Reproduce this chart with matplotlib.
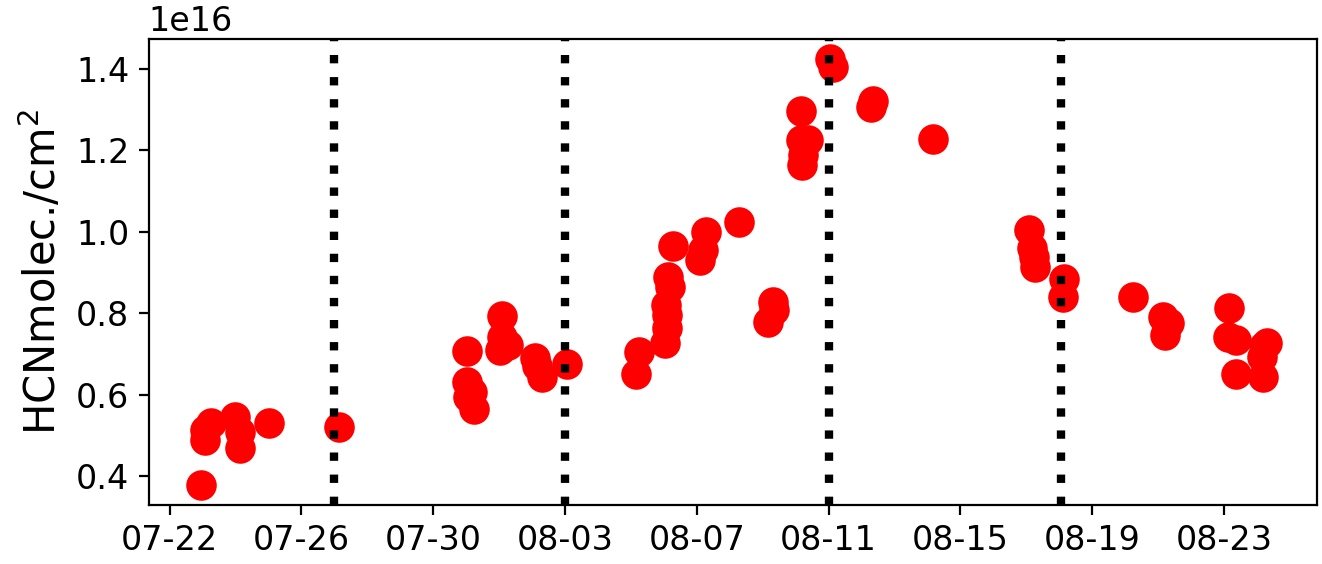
import matplotlib
matplotlib.use("Agg")
import matplotlib.pyplot as plt
import matplotlib.dates as mdates
import pandas as pd

# observation times (2019) and HCN total columns (molec./cm^2)
times = [
    "07-22 23:15", "07-23 01:30", "07-23 02:10", "07-23 06:00", "07-23 23:30",
    "07-24 03:00", "07-24 03:10", "07-25 00:15", "07-27 03:20",
    "07-31 00:45", "07-31 00:40", "07-31 04:30", "07-31 01:30", "07-31 05:45",
    "08-01 02:10", "08-01 02:15", "08-01 00:45", "08-01 06:30",
    "08-02 02:10", "08-02 03:40", "08-02 07:30", "08-03 01:40",
    "08-05 03:50", "08-05 06:00", "08-06 00:30", "08-06 02:00", "08-06 02:40",
    "08-06 01:50", "08-06 04:50", "08-06 03:20", "08-06 07:00",
    "08-07 02:40", "08-07 04:40", "08-07 07:00", "08-08 07:00",
    "08-09 03:40", "08-09 07:10", "08-09 08:00",
    "08-11 00:45", "08-11 03:00", "08-10 03:40", "08-10 03:40", "08-10 09:20",
    "08-10 05:00", "08-10 04:20", "08-12 08:10", "08-12 06:40", "08-14 03:50",
    "08-17 02:00", "08-17 04:20", "08-17 05:50", "08-17 06:30",
    "08-18 03:20", "08-18 02:40", "08-20 05:50",
    "08-21 03:40", "08-21 08:00", "08-21 05:00",
    "08-23 03:50", "08-23 03:10", "08-23 09:00", "08-23 09:00",
    "08-24 07:30", "08-24 03:30", "08-24 04:30", "08-24 05:20",
]
hcn = [
    0.378, 0.488, 0.513, 0.530, 0.545,
    0.508, 0.469, 0.530, 0.520,
    0.707, 0.631, 0.605, 0.594, 0.565,
    0.793, 0.742, 0.710, 0.722,
    0.690, 0.670, 0.643, 0.675,
    0.651, 0.705, 0.727, 0.764, 0.796,
    0.820, 0.864, 0.889, 0.965,
    0.931, 0.955, 0.999, 1.024,
    0.778, 0.827, 0.808,
    1.425, 1.405, 1.297, 1.226, 1.226,
    1.189, 1.164, 1.321, 1.307, 1.228,
    1.004, 0.960, 0.938, 0.914,
    0.884, 0.840, 0.840,
    0.791, 0.776, 0.747,
    0.813, 0.741, 0.733, 0.651,
    0.727, 0.692, 0.643, 0.720,
]
week_marks = ["07-27 00:00", "08-03 00:00", "08-11 00:00", "08-18 01:00"]
tick_days = ["07-22", "07-26", "07-30", "08-03", "08-07", "08-11", "08-15", "08-19", "08-23"]

t = pd.to_datetime(["2019-" + s for s in times])
y = [v * 1e16 for v in hcn]

fig = plt.figure(figsize=(6.61, 2.82), dpi=200)
ax = fig.add_axes([0.1125, 0.105, 0.8835, 0.826])
ax.plot(t, y, 'o', color='red', markersize=10)
for w in week_marks:
    ax.axvline(pd.Timestamp("2019-" + w), color='black', linestyle=':', linewidth=3)

ax.set_xticks(pd.to_datetime(["2019-" + d for d in tick_days]))
ax.xaxis.set_major_formatter(mdates.DateFormatter('%m-%d'))
ax.set_xlim(pd.Timestamp("2019-07-21 08:50"), pd.Timestamp("2019-08-25 19:30"))
ax.set_ylim(0.329e16, 1.474e16)
ax.set_yticks([0.4e16, 0.6e16, 0.8e16, 1.0e16, 1.2e16, 1.4e16])
ax.tick_params(labelsize=12)
ax.yaxis.get_offset_text().set_fontsize(12)
ax.set_ylabel('HCNmolec./cm$^2$', fontsize=15)

fig.savefig('out.png', dpi=200)
